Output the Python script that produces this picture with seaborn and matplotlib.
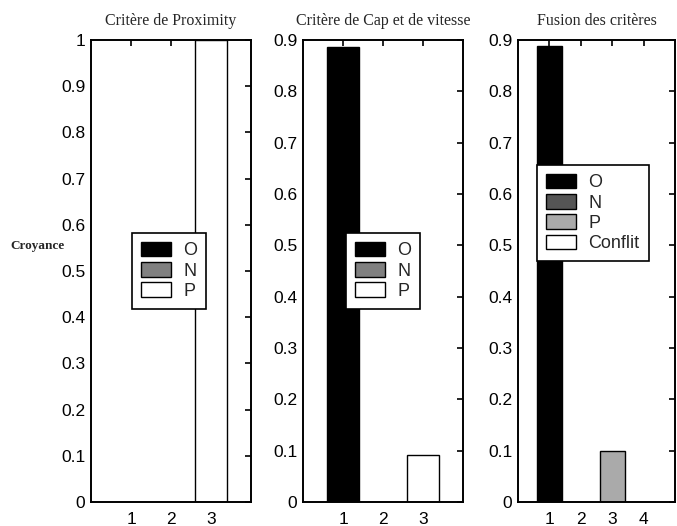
import matplotlib
matplotlib.use("Agg")
import matplotlib.pyplot as plt
from matplotlib.patches import Patch
import seaborn as sns
import numpy as np

# ---- data ----
titles = ["Critère de Proximity", "Critère de Cap et de vitesse", "Fusion des critères"]

pos1 = [1, 2, 3]
vals1 = [0.0, 0.0, 1.0]
labels1 = ["O", "N", "P"]
colors1 = ["#000000", "#808080", "#ffffff"]

pos2 = [1, 2, 3]
vals2 = [0.887, 0.0, 0.092]
labels2 = ["O", "N", "P"]
colors2 = ["#000000", "#808080", "#ffffff"]

pos3 = [1, 2, 3, 4]
vals3 = [0.888, 0.0, 0.1, 0.0]
labels3 = ["O", "N", "P", "Conflit"]
colors3 = ["#000000", "#555555", "#aaaaaa", "#ffffff"]

ymax = [1.0, 0.9, 0.9]
xmax = [4, 4, 5]
yticks1 = [0, 0.1, 0.2, 0.3, 0.4, 0.5, 0.6, 0.7, 0.8, 0.9, 1]
yticklabels1 = ["0", "0.1", "0.2", "0.3", "0.4", "0.5", "0.6", "0.7", "0.8", "0.9", "1"]
yticks23 = yticks1[:-1]
yticklabels23 = yticklabels1[:-1]
ylabel = "Croyance"

sns.set_style("white")
plt.rcParams["font.family"] = ["Liberation Sans", "DejaVu Sans"]

W, H = 677, 526
fig = plt.figure(figsize=(W / 100, H / 100), dpi=100)

def px_axes(left, right, top, bottom):
    return fig.add_axes([left / W, 1 - bottom / H, (right - left) / W, (bottom - top) / H])

axes = [px_axes(91, 251, 40, 502), px_axes(303, 463, 40, 502), px_axes(518, 675, 40, 502)]
datasets = [(pos1, vals1, labels1, colors1),
            (pos2, vals2, labels2, colors2),
            (pos3, vals3, labels3, colors3)]
legend_anchor_px = [(132, 233), (346, 233), (537, 165)]

for i, (ax, (pos, vals, labs, cols)) in enumerate(zip(axes, datasets)):
    sns.barplot(x=pos, y=vals, hue=labs, palette=cols, hue_order=labs,
                native_scale=True, dodge=False, width=0.8,
                edgecolor="black", linewidth=1.0, legend=False, ax=ax)
    ax.set_xlim(0, xmax[i])
    ax.set_ylim(0, ymax[i])
    ax.set_xticks(pos)
    ax.set_xticklabels([str(p) for p in pos])
    if i == 0:
        ax.set_yticks(yticks1)
        ax.set_yticklabels(yticklabels1)
    else:
        ax.set_yticks(yticks23)
        ax.set_yticklabels(yticklabels23)
    ax.set_xlabel("")
    ax.set_ylabel("")
    for s in ax.spines.values():
        s.set_visible(True)
        s.set_color("black")
        s.set_linewidth(1.4)
    ax.tick_params(direction="in", length=4, width=1.2, top=True, right=True,
                   labelsize=12.5, colors="black", pad=4)
    ax.tick_params(axis="x", pad=7)
    ax.set_title(titles[i], fontfamily=["Liberation Serif", "DejaVu Serif"],
                 fontsize=11.5, pad=11)
    handles = [Patch(facecolor=c, edgecolor="black", linewidth=1.0) for c in cols]
    lx, ly = legend_anchor_px[i]
    leg = ax.legend(handles, labs, loc="upper left",
                    bbox_to_anchor=(lx / W, 1 - ly / H), bbox_transform=fig.transFigure,
                    fontsize=13, frameon=True, fancybox=False, framealpha=1,
                    edgecolor="black", borderpad=0.5, labelspacing=0.15,
                    handlelength=1.65, handleheight=0.85, handletextpad=0.7,
                    borderaxespad=0)
    leg.get_frame().set_linewidth(1.2)

fig.text(37.5 / W, 1 - 246 / H, ylabel, ha="center", va="center",
         fontfamily=["Liberation Serif", "DejaVu Serif"], fontweight="bold", fontsize=9.5)

fig.savefig("out.png", dpi=100)
